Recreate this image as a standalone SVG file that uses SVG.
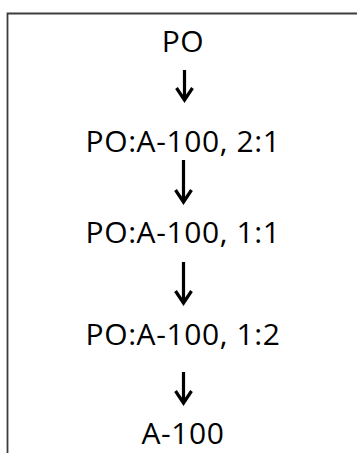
<svg xmlns="http://www.w3.org/2000/svg" width="357" height="453" viewBox="0 0 357 453">
<style>
.t{font-family:"Open Sans","Liberation Sans",sans-serif;font-size:30px;fill:#000;text-anchor:middle;letter-spacing:0.6px}
.a{fill:none;stroke:#000;stroke-width:3.2;stroke-linecap:butt;stroke-linejoin:miter}
</style>
<rect width="357" height="453" fill="#fff"/>
<path d="M7.5,453 V13.5 H357" fill="none" stroke="#3c3c3c" stroke-width="1.8"/>
<g id="n1"><text class="t" x="183" y="52">PO</text></g>
<g id="n2"><text class="t" x="183" y="152">PO:A-100, 2:1</text></g>
<g id="n3"><text class="t" x="183" y="243">PO:A-100, 1:1</text></g>
<g id="n4"><text class="t" x="183" y="345">PO:A-100, 1:2</text></g>
<g id="n5"><text class="t" x="183" y="444">A-100</text></g>
<g id="connectors">
<path class="a" d="M184.5,70 V99 M176.5,88 L184.5,100 L192.5,88"/>
<path class="a" d="M183.5,160 V201 M175.5,190 L183.5,202 L191.5,190"/>
<path class="a" d="M183.5,262 V302 M175.5,291 L183.5,303 L191.5,291"/>
<path class="a" d="M183.5,372 V402 M175.5,391 L183.5,403 L191.5,391"/>
</g>
</svg>
